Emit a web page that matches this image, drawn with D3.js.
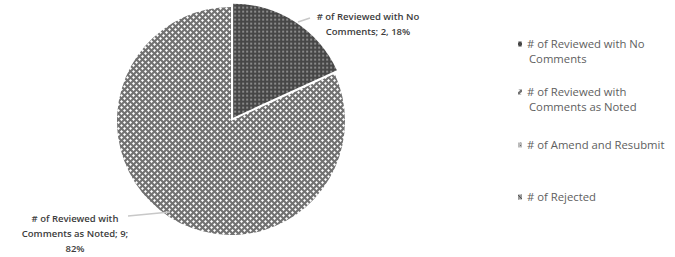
<!DOCTYPE html>
<html>
<head>
<meta charset="utf-8">
<script src="https://cdn.jsdelivr.net/npm/d3@7"></script>
<style>
  html, body { margin: 0; padding: 0; background: #fff; }
  svg { display: block; font-family: "Open Sans", sans-serif; }
</style>
</head>
<body>
<svg id="chart" width="675" height="257"></svg>
<script>
// chart data
const categories = ["# of Reviewed with No Comments", "# of Reviewed with Comments as Noted",
                    "# of Amend and Resubmit", "# of Rejected"]
const values = [2, 9, 0, 0]
const percents = ["18%", "82%", "0%", "0%"]

// wrapped text lines, as they appear in the picture
const dataLabelLines = [
  ["# of Reviewed with No", "Comments; 2, 18%"],
  ["# of Reviewed with", "Comments as Noted; 9;", "82%"]
]
const legendLines = [
  ["# of Reviewed with No", "Comments"],
  ["# of Reviewed with", "Comments as Noted"],
  ["# of Amend and Resubmit"],
  ["# of Rejected"]
]

const svg = d3.select("#chart")
const defs = svg.append("defs")

// dark dotted pattern
const p0 = defs.append("pattern").attr("id", "pat0")
  .attr("width", 4).attr("height", 4).attr("patternUnits", "userSpaceOnUse")
p0.append("rect").attr("width", 4).attr("height", 4).attr("fill", "#474747")
p0.append("rect").attr("x", 1).attr("y", 1).attr("width", 2).attr("height", 2).attr("fill", "#8a8a8a")

// light diamond pattern
const p1 = defs.append("pattern").attr("id", "pat1")
  .attr("width", 6).attr("height", 6).attr("patternUnits", "userSpaceOnUse")
p1.append("rect").attr("width", 6).attr("height", 6).attr("fill", "#727272")
p1.append("path").attr("d", "M1.5,0 L3,1.5 L1.5,3 L0,1.5Z M4.5,3 L6,4.5 L4.5,6 L3,4.5Z").attr("fill", "#fff")

const p2 = defs.append("pattern").attr("id", "pat2")
  .attr("width", 3).attr("height", 3).attr("patternUnits", "userSpaceOnUse")
p2.append("rect").attr("width", 3).attr("height", 3).attr("fill", "#bbb")
p2.append("rect").attr("width", 1).attr("height", 1).attr("fill", "#666")

const p3 = defs.append("pattern").attr("id", "pat3")
  .attr("width", 4).attr("height", 4).attr("patternUnits", "userSpaceOnUse")
p3.append("rect").attr("width", 4).attr("height", 4).attr("fill", "#999")
p3.append("path").attr("d", "M0,0 L4,4").attr("stroke", "#555").attr("stroke-width", 1)

const fills = ["url(#pat0)", "url(#pat1)", "url(#pat2)", "url(#pat3)"]

const cx = 231, cy = 121, radius = 114
const explode = [4, 0, 0, 0]

const pie = d3.pie().sort(null).value(d => d)
const arcs = pie(values)
const arc = d3.arc().innerRadius(0).outerRadius(radius)

const g = svg.append("g").attr("transform", `translate(${cx},${cy})`)

g.selectAll("path.slice")
  .data(arcs.filter(d => d.value > 0))
  .enter().append("path")
    .attr("class", "slice")
    .attr("d", arc)
    .attr("fill", d => fills[d.index])
    .attr("transform", d => {
      const mid = (d.startAngle + d.endAngle) / 2
      const e = explode[d.index]
      return `translate(${Math.sin(mid) * e},${-Math.cos(mid) * e})`
    })

// data labels with leader lines
const labelPos = [
  { x: 368, y: 17, line: [[298, 22], [310, 18]] },
  { x: 75, y: 219, line: [[128, 216], [170, 212]] }
]
const labelColor = "#3c3c3c"

labelPos.forEach((p, i) => {
  svg.append("path")
    .attr("d", d3.line()(p.line))
    .attr("stroke", "#c8c8c8").attr("stroke-width", 1.5).attr("fill", "none")
  const t = svg.append("text")
    .attr("x", p.x).attr("y", p.y)
    .attr("text-anchor", "middle")
    .attr("font-size", 9.5).attr("font-weight", 600)
    .attr("fill", labelColor)
  dataLabelLines[i].forEach((ln, j) => {
    t.append("tspan").attr("x", p.x).attr("dy", j === 0 ? "0.35em" : 15).text(ln)
  })
})

// legend
const legendY = [44, 92, 145, 197]
const lg = svg.append("g").attr("class", "legend")
categories.forEach((c, i) => {
  const row = lg.append("g").attr("transform", `translate(520,${legendY[i]})`)
  row.append("rect").attr("x", -2).attr("y", -2.5).attr("width", 4).attr("height", 5)
    .attr("fill", fills[i])
  const t = row.append("text").attr("x", 7).attr("y", 0)
    .attr("font-size", 11.3).attr("fill", "#5e5e5e")
  legendLines[i].forEach((ln, j) => {
    t.append("tspan").attr("x", j === 0 ? 7 : 9).attr("dy", j === 0 ? "0.35em" : 15).text(ln)
  })
})
</script>
</body>
</html>
